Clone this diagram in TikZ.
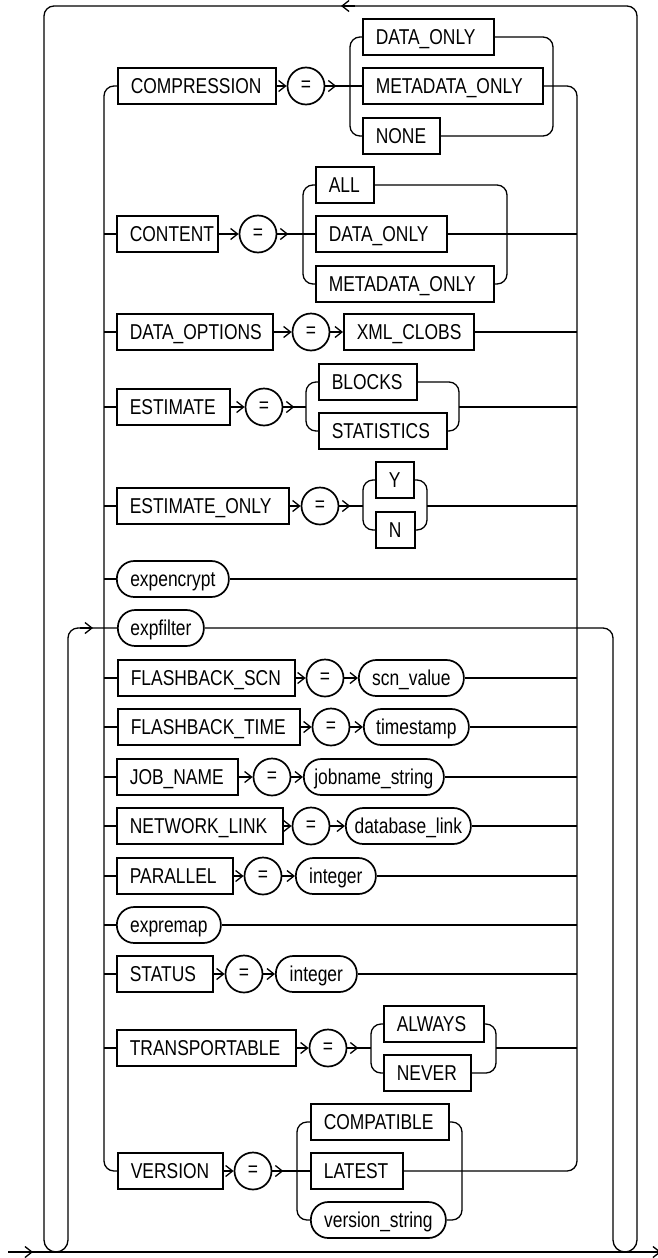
\documentclass[tikz,border=0pt]{standalone}
\usepackage{fontspec}
\setmainfont{Liberation Sans}[FakeStretch=0.81]
\usetikzlibrary{arrows.meta}
\newcommand\kwf{\fontsize{21.5}{25}\selectfont\hyphenpenalty=10000\exhyphenpenalty=10000 }
\newcommand\kbox[5]{\pgfmathsetmacro\kbW{#4-26}\node[kw, text width=\kbW pt] (#1) at (#2,#3) {#5};}
\newcommand\vnode[5]{\node[var, minimum width=#4pt] (#1) at (#2,#3) {#5};}
\tikzset{
  ln/.style={line width=1.3pt},
  kw/.style={draw, line width=1.7pt, rectangle, anchor=west, minimum height=36pt,
    inner xsep=13pt, inner ysep=0pt, align=left, text height=15pt, text depth=0.5pt, font=\kwf},
  var/.style={draw, line width=1.7pt, rectangle, rounded corners=17.5pt, anchor=west,
    minimum height=36pt, inner xsep=0pt, inner ysep=0pt, text height=15pt, text depth=0.5pt, font=\kwf},
  eq/.style={draw, line width=1.7pt, circle, minimum size=37pt, inner sep=0pt, font=\kwf},
}
\begin{document}
\begin{tikzpicture}[x=1pt,y=-1pt,>={Straight Barb[length=7pt,width=11pt]}]
\useasboundingbox (0,0) rectangle (658,1258);
\fill[white] (0,0) rectangle (658,1258);
\coordinate (Lx) at (104,0);
\coordinate (Rx) at (577,0);
% ---- nodes ----
\kbox{cmp}{117}{86}{158}{COMPRESSION}
\node[eq] (cmpE) at (306,86) {=};
\kbox{cmpA}{362}{37}{131}{DATA\_ONLY}
\kbox{cmpB}{362}{86}{180}{METADATA\_ONLY}
\kbox{cmpC}{362}{136}{77}{NONE}
\kbox{cnt}{116}{234}{101}{CONTENT}
\node[eq] (cntE) at (258,234) {=};
\kbox{cntA}{315}{185}{58}{ALL}
\kbox{cntB}{315}{234}{131}{DATA\_ONLY}
\kbox{cntC}{315}{284}{178}{METADATA\_ONLY}
\kbox{dop}{116}{332}{156}{DATA\_OPTIONS}
\node[eq] (dopE) at (311,332) {=};
\kbox{dopX}{343}{332}{130}{XML\_CLOBS}
\kbox{est}{116}{407}{113}{ESTIMATE}
\node[eq] (estE) at (264,407) {=};
\kbox{estA}{318}{382}{98}{BLOCKS}
\kbox{estB}{318}{431}{128}{STATISTICS}
\kbox{eso}{116}{506}{172}{ESTIMATE\_ONLY}
\node[eq] (esoE) at (320,506) {=};
\kbox{esoA}{375}{480}{38}{Y}
\kbox{esoB}{375}{530}{39}{N}
\vnode{enc}{116}{579}{112}{expencrypt}
\vnode{flt}{117}{628}{86}{expfilter}
\kbox{scn}{117}{678}{177}{FLASHBACK\_SCN}
\node[eq] (scnE) at (325,678) {=};
\vnode{scnV}{358}{678}{105}{scn\_value}
\kbox{fbt}{117}{727}{182}{FLASHBACK\_TIME}
\node[eq] (fbtE) at (331,727) {=};
\vnode{fbtV}{363}{727}{105}{timestamp}
\kbox{job}{116}{777}{121}{JOB\_NAME}
\node[eq] (jobE) at (272,777) {=};
\vnode{jobV}{303}{777}{140}{jobname\_string}
\kbox{net}{116}{826}{166}{NETWORK\_LINK}
\node[eq] (netE) at (311,826) {=};
\vnode{netV}{345}{826}{125}{database\_link}
\kbox{par}{116}{876}{116}{PARALLEL}
\node[eq] (parE) at (263,876) {=};
\vnode{parV}{295}{876}{80}{integer}
\vnode{rmp}{116}{925}{104}{expremap}
\kbox{sts}{116}{974}{96}{STATUS}
\node[eq] (stsE) at (244,974) {=};
\vnode{stsV}{275}{974}{81}{integer}
\kbox{trn}{116}{1048}{179}{TRANSPORTABLE}
\node[eq] (trnE) at (328,1048) {=};
\kbox{trnA}{383}{1024}{100}{ALWAYS}
\kbox{trnB}{383}{1073}{87}{NEVER}
\kbox{ver}{117}{1171}{105}{VERSION}
\node[eq] (verE) at (253,1171) {=};
\kbox{verA}{310}{1122}{138}{COMPATIBLE}
\kbox{verB}{310}{1171}{92}{LATEST}
\vnode{verC}{310}{1220}{135}{version\_string}
% ---- main frame and loops ----
\coordinate (start) at (8,1252);
\coordinate (end) at (661,1252);
\draw[ln,->] (start) -- (end);
\draw[ln,->] (start) -- (33,1252);
\draw[ln, rounded corners=10pt] (flt.west) -- (68,628) [rounded corners=12pt] -- (68,1252) -- (44,1252)
  [rounded corners=10pt] -- (44,6) -- (637,6) [rounded corners=12pt] -- (637,1252) -- (613,1252)
  [rounded corners=10pt] -- (613,628) -- (flt.east);
\draw[ln,->] (80,628) -- (93,628);
\draw[ln,->] (355,6) -- (341,6);
% ---- left and right rails ----
\draw[ln, rounded corners=10pt] (cmp.west) -- (104,86) -- (104,1171) -- (ver.west);
\draw[ln, rounded corners=10pt] (cmpB.east) -- (577,86) -- (577,1171) -- (verB.east);
\foreach \n in {cnt,dop,est,eso,enc,scn,fbt,job,net,par,rmp,sts,trn}
  \draw[ln] (\n.west -| Lx) -- (\n.west);
% ---- COMPRESSION ----
\draw[ln,->] (cmp.east) -- (cmpE.west);
\draw[ln] (cmpE.east) -- (cmpB.west);
\draw[ln,->] (cmpE.east) -- ++(11,0);
\draw[ln, rounded corners=10pt] (cmpA.west) -- (350,37) -- (350,136) -- (cmpC.west);
\draw[ln, rounded corners=10pt] (cmpA.east) -- (553,37) -- (553,136) -- (cmpC.east);
% ---- CONTENT ----
\draw[ln,->] (cnt.east) -- (cntE.west);
\draw[ln] (cntE.east) -- (cntB.west);
\draw[ln,->] (cntE.east) -- ++(11,0);
\draw[ln, rounded corners=10pt] (cntA.west) -- (303,185) -- (303,284) -- (cntC.west);
\draw[ln, rounded corners=10pt] (cntA.east) -- (507,185) -- (507,284) -- (cntC.east);
\draw[ln] (cntB.east) -- (cntB.east -| Rx);
% ---- DATA_OPTIONS ----
\draw[ln,->] (dop.east) -- (dopE.west);
\draw[ln,->] (dopE.east) -- (dopX.west);
\draw[ln] (dopX.east) -- (dopX.east -| Rx);
% ---- ESTIMATE ----
\draw[ln,->] (est.east) -- (estE.west);
\draw[ln] (estE.east) -- (306,407);
\draw[ln,->] (estE.east) -- ++(11,0);
\draw[ln, rounded corners=10pt] (estA.west) -- (306,382) -- (306,431) -- (estB.west);
\draw[ln, rounded corners=10pt] (estA.east) -- (459,382) -- (459,431) -- (estB.east);
\draw[ln] (459,407) -- (est.east -| Rx);
% ---- ESTIMATE_ONLY ----
\draw[ln,->] (eso.east) -- (esoE.west);
\draw[ln] (esoE.east) -- (363,506);
\draw[ln,->] (esoE.east) -- ++(11,0);
\draw[ln, rounded corners=10pt] (esoA.west) -- (363,480) -- (363,530) -- (esoB.west);
\draw[ln, rounded corners=10pt] (esoA.east) -- (427,480) -- (427,530) -- (esoB.east);
\draw[ln] (427,506) -- (eso.east -| Rx);
% ---- single rows ----
\draw[ln] (enc.east) -- (enc.east -| Rx);
\foreach \n in {scn,fbt,job,net,par,sts} {
  \draw[ln,->] (\n.east) -- (\n E.west);
  \draw[ln,->] (\n E.east) -- (\n V.west);
  \draw[ln] (\n V.east) -- (\n V.east -| Rx);
}
\draw[ln] (rmp.east) -- (rmp.east -| Rx);
% ---- TRANSPORTABLE ----
\draw[ln,->] (trn.east) -- (trnE.west);
\draw[ln] (trnE.east) -- (371,1048);
\draw[ln,->] (trnE.east) -- ++(11,0);
\draw[ln, rounded corners=10pt] (trnA.west) -- (371,1024) -- (371,1073) -- (trnB.west);
\draw[ln, rounded corners=10pt] (trnA.east) -- (496,1024) -- (496,1073) -- (trnB.east);
\draw[ln] (496,1048) -- (trn.east -| Rx);
% ---- VERSION ----
\draw[ln,->] (ver.east) -- (verE.west);
\draw[ln] (verE.east) -- (verB.west);
\draw[ln,->] (verE.east) -- ++(11,0);
\draw[ln, rounded corners=10pt] (verA.west) -- (297,1122) -- (297,1220) -- (verC.west);
\draw[ln, rounded corners=10pt] (verA.east) -- (462,1122) -- (462,1220) -- (verC.east);
\end{tikzpicture}
\end{document}
